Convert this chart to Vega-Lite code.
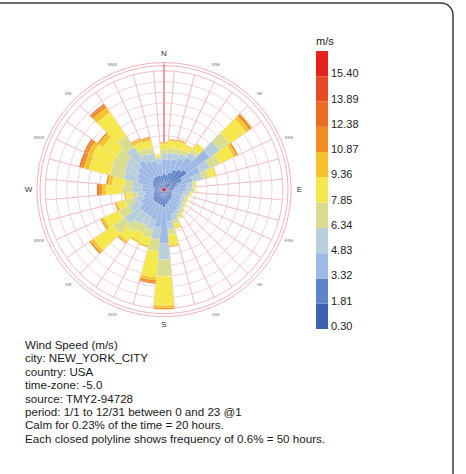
{
  "$schema": "https://vega.github.io/schema/vega-lite/v6.json",
  "width": 465,
  "height": 483,
  "autosize": {"type": "none"},
  "padding": {"left": -12, "top": 3, "right": 13, "bottom": -12},
  "background": "white",
  "config": {"view": {"stroke": "#3a3a3a", "strokeWidth": 1.5, "cornerRadius": 12}},
  "title": {
    "text": ["Wind Speed (m/s)", "city: NEW_YORK_CITY", "country: USA", "time-zone: -5.0", "source: TMY2-94728", "period: 1/1 to 12/31 between 0 and 23 @1", "Calm for 0.23% of the time = 20 hours.", "Each closed polyline shows frequency of 0.6% = 50 hours."],
    "orient": "bottom", "anchor": "start", "frame": "group", "offset": -146, "dx": 37,
    "font": "Liberation Sans", "fontSize": 11.6, "fontWeight": "normal", "color": "#1a1a1a", "lineHeight": 13.4
  },
  "datasets": {
    "rings": [{"r": 0.6}, {"r": 1.2}, {"r": 1.8}, {"r": 2.4}, {"r": 3.0}, {"r": 3.6}, {"r": 4.2}, {"r": 4.8}, {"r": 5.4}, {"r": 6.0}, {"r": 6.6}],
    "outer": [{"r": 6.89}, {"r": 7.06}],
    "dirs": [{"d":0},{"d":10},{"d":20},{"d":30},{"d":40},{"d":50},{"d":60},{"d":70},{"d":80},{"d":90},{"d":100},{"d":110},{"d":120},{"d":130},{"d":140},{"d":150},{"d":160},{"d":170},{"d":180},{"d":190},{"d":200},{"d":210},{"d":220},{"d":230},{"d":240},{"d":250},{"d":260},{"d":270},{"d":280},{"d":290},{"d":300},{"d":310},{"d":320},{"d":330},{"d":340},{"d":350}],
    "major": [{"a": 0, "t": "N"}, {"a": 90, "t": "E"}, {"a": 180, "t": "S"}, {"a": 270, "t": "W"}],
    "minor": [{"a": 22.5, "t": "NNE"}, {"a": 45, "t": "NE"}, {"a": 67.5, "t": "ENE"}, {"a": 112.5, "t": "ESE"}, {"a": 135, "t": "SE"}, {"a": 157.5, "t": "SSE"}, {"a": 202.5, "t": "SSW"}, {"a": 225, "t": "SW"}, {"a": 247.5, "t": "WSW"}, {"a": 292.5, "t": "WNW"}, {"a": 315, "t": "NW"}, {"a": 337.5, "t": "NNW"}],
    "center": [{"v": 1}],
    "wind": [
      {"d":0,"w":1.06,"f":0.28},{"d":0,"w":2.57,"f":0.61},{"d":0,"w":4.08,"f":0.78},{"d":0,"w":5.59,"f":0.33},{"d":0,"w":7.1,"f":0.22},{"d":0,"w":8.61,"f":0.33},{"d":0,"w":10.12,"f":0.08},{"d":0,"w":11.63,"f":0.03},
      {"d":10,"w":1.06,"f":0.28},{"d":10,"w":2.57,"f":0.56},{"d":10,"w":4.08,"f":0.83},{"d":10,"w":5.59,"f":0.39},{"d":10,"w":7.1,"f":0.28},{"d":10,"w":8.61,"f":0.39},{"d":10,"w":10.12,"f":0.08},{"d":10,"w":11.63,"f":0.03},
      {"d":20,"w":1.06,"f":0.33},{"d":20,"w":2.57,"f":0.67},{"d":20,"w":4.08,"f":0.78},{"d":20,"w":5.59,"f":0.33},{"d":20,"w":7.1,"f":0.28},{"d":20,"w":8.61,"f":0.39},{"d":20,"w":10.12,"f":0.08},{"d":20,"w":11.63,"f":0.03},
      {"d":30,"w":1.06,"f":0.39},{"d":30,"w":2.57,"f":0.83},{"d":30,"w":4.08,"f":0.72},{"d":30,"w":5.59,"f":0.28},{"d":30,"w":7.1,"f":0.22},{"d":30,"w":8.61,"f":0.28},{"d":30,"w":10.12,"f":0.06},
      {"d":40,"w":1.06,"f":0.44},{"d":40,"w":2.57,"f":0.94},{"d":40,"w":4.08,"f":0.83},{"d":40,"w":5.59,"f":0.33},{"d":40,"w":7.1,"f":0.22},{"d":40,"w":8.61,"f":0.33},{"d":40,"w":10.12,"f":0.06},
      {"d":50,"w":1.06,"f":0.44},{"d":50,"w":2.57,"f":1.11},{"d":50,"w":4.08,"f":1.56},{"d":50,"w":5.59,"f":0.67},{"d":50,"w":7.1,"f":0.67},{"d":50,"w":8.61,"f":1.11},{"d":50,"w":10.12,"f":0.22},{"d":50,"w":11.63,"f":0.17},
      {"d":60,"w":1.06,"f":0.33},{"d":60,"w":2.57,"f":0.78},{"d":60,"w":4.08,"f":1.11},{"d":60,"w":5.59,"f":0.61},{"d":60,"w":7.1,"f":0.61},{"d":60,"w":8.61,"f":0.83},{"d":60,"w":10.12,"f":0.17},{"d":60,"w":11.63,"f":0.11},
      {"d":70,"w":1.06,"f":0.28},{"d":70,"w":2.57,"f":0.5},{"d":70,"w":4.08,"f":0.89},{"d":70,"w":5.59,"f":0.56},{"d":70,"w":7.1,"f":0.39},{"d":70,"w":8.61,"f":0.33},{"d":70,"w":10.12,"f":0.06},
      {"d":80,"w":1.06,"f":0.22},{"d":80,"w":2.57,"f":0.39},{"d":80,"w":4.08,"f":0.72},{"d":80,"w":5.59,"f":0.28},{"d":80,"w":7.1,"f":0.17},{"d":80,"w":8.61,"f":0.06},
      {"d":90,"w":1.06,"f":0.22},{"d":90,"w":2.57,"f":0.33},{"d":90,"w":4.08,"f":0.67},{"d":90,"w":5.59,"f":0.28},{"d":90,"w":7.1,"f":0.17},{"d":90,"w":8.61,"f":0.06},
      {"d":100,"w":1.06,"f":0.22},{"d":100,"w":2.57,"f":0.28},{"d":100,"w":4.08,"f":0.61},{"d":100,"w":5.59,"f":0.28},{"d":100,"w":7.1,"f":0.11},{"d":100,"w":8.61,"f":0.06},
      {"d":110,"w":1.06,"f":0.17},{"d":110,"w":2.57,"f":0.33},{"d":110,"w":4.08,"f":0.5},{"d":110,"w":5.59,"f":0.22},{"d":110,"w":7.1,"f":0.17},{"d":110,"w":8.61,"f":0.06},
      {"d":120,"w":1.06,"f":0.17},{"d":120,"w":2.57,"f":0.33},{"d":120,"w":4.08,"f":0.56},{"d":120,"w":5.59,"f":0.22},{"d":120,"w":7.1,"f":0.11},{"d":120,"w":8.61,"f":0.06},
      {"d":130,"w":1.06,"f":0.17},{"d":130,"w":2.57,"f":0.39},{"d":130,"w":4.08,"f":0.56},{"d":130,"w":5.59,"f":0.22},{"d":130,"w":7.1,"f":0.11},{"d":130,"w":8.61,"f":0.06},
      {"d":140,"w":1.06,"f":0.22},{"d":140,"w":2.57,"f":0.39},{"d":140,"w":4.08,"f":0.61},{"d":140,"w":5.59,"f":0.22},{"d":140,"w":7.1,"f":0.17},{"d":140,"w":8.61,"f":0.06},
      {"d":150,"w":1.06,"f":0.22},{"d":150,"w":2.57,"f":0.44},{"d":150,"w":4.08,"f":0.67},{"d":150,"w":5.59,"f":0.22},{"d":150,"w":7.1,"f":0.17},{"d":150,"w":8.61,"f":0.08},
      {"d":160,"w":1.06,"f":0.22},{"d":160,"w":2.57,"f":0.5},{"d":160,"w":4.08,"f":0.72},{"d":160,"w":5.59,"f":0.33},{"d":160,"w":7.1,"f":0.22},{"d":160,"w":8.61,"f":0.22},{"d":160,"w":10.12,"f":0.06},
      {"d":170,"w":1.06,"f":0.28},{"d":170,"w":2.57,"f":0.56},{"d":170,"w":4.08,"f":0.94},{"d":170,"w":5.59,"f":0.44},{"d":170,"w":7.1,"f":0.33},{"d":170,"w":8.61,"f":0.56},{"d":170,"w":10.12,"f":0.08},{"d":170,"w":11.63,"f":0.03},
      {"d":180,"w":1.06,"f":0.28},{"d":180,"w":2.57,"f":0.72},{"d":180,"w":4.08,"f":2.0},{"d":180,"w":5.59,"f":0.89},{"d":180,"w":7.1,"f":0.94},{"d":180,"w":8.61,"f":1.61},{"d":180,"w":10.12,"f":0.14},{"d":180,"w":11.63,"f":0.08},
      {"d":190,"w":1.06,"f":0.28},{"d":190,"w":2.57,"f":0.61},{"d":190,"w":4.08,"f":1.22},{"d":190,"w":5.59,"f":0.67},{"d":190,"w":7.1,"f":0.67},{"d":190,"w":8.61,"f":1.44},{"d":190,"w":10.12,"f":0.17},{"d":190,"w":11.63,"f":0.14},{"d":190,"w":13.14,"f":0.06},
      {"d":200,"w":1.06,"f":0.28},{"d":200,"w":2.57,"f":0.56},{"d":200,"w":4.08,"f":0.94},{"d":200,"w":5.59,"f":0.56},{"d":200,"w":7.1,"f":0.44},{"d":200,"w":8.61,"f":0.44},{"d":200,"w":10.12,"f":0.11},
      {"d":210,"w":1.06,"f":0.28},{"d":210,"w":2.57,"f":0.56},{"d":210,"w":4.08,"f":0.83},{"d":210,"w":5.59,"f":0.56},{"d":210,"w":7.1,"f":0.44},{"d":210,"w":8.61,"f":0.5},{"d":210,"w":10.12,"f":0.11},
      {"d":220,"w":1.06,"f":0.28},{"d":220,"w":2.57,"f":0.56},{"d":220,"w":4.08,"f":0.83},{"d":220,"w":5.59,"f":0.67},{"d":220,"w":7.1,"f":0.56},{"d":220,"w":8.61,"f":0.61},{"d":220,"w":10.12,"f":0.11},{"d":220,"w":11.63,"f":0.06},
      {"d":230,"w":1.06,"f":0.28},{"d":230,"w":2.57,"f":0.5},{"d":230,"w":4.08,"f":0.89},{"d":230,"w":5.59,"f":1.0},{"d":230,"w":7.1,"f":0.78},{"d":230,"w":8.61,"f":1.33},{"d":230,"w":10.12,"f":0.17},{"d":230,"w":11.63,"f":0.11},
      {"d":240,"w":1.06,"f":0.22},{"d":240,"w":2.57,"f":0.44},{"d":240,"w":4.08,"f":0.78},{"d":240,"w":5.59,"f":0.67},{"d":240,"w":7.1,"f":0.67},{"d":240,"w":8.61,"f":0.89},{"d":240,"w":10.12,"f":0.17},{"d":240,"w":11.63,"f":0.06},
      {"d":250,"w":1.06,"f":0.22},{"d":250,"w":2.57,"f":0.39},{"d":250,"w":4.08,"f":0.61},{"d":250,"w":5.59,"f":0.56},{"d":250,"w":7.1,"f":0.44},{"d":250,"w":8.61,"f":0.44},{"d":250,"w":10.12,"f":0.11},{"d":250,"w":11.63,"f":0.06},
      {"d":260,"w":1.06,"f":0.22},{"d":260,"w":2.57,"f":0.33},{"d":260,"w":4.08,"f":0.56},{"d":260,"w":5.59,"f":0.39},{"d":260,"w":7.1,"f":0.33},{"d":260,"w":8.61,"f":0.28},{"d":260,"w":10.12,"f":0.08},{"d":260,"w":11.63,"f":0.03},
      {"d":270,"w":1.06,"f":0.22},{"d":270,"w":2.57,"f":0.33},{"d":270,"w":4.08,"f":0.67},{"d":270,"w":5.59,"f":0.56},{"d":270,"w":7.1,"f":0.56},{"d":270,"w":8.61,"f":0.89},{"d":270,"w":10.12,"f":0.22},{"d":270,"w":11.63,"f":0.17},{"d":270,"w":13.14,"f":0.11},
      {"d":280,"w":1.06,"f":0.22},{"d":280,"w":2.57,"f":0.33},{"d":280,"w":4.08,"f":0.67},{"d":280,"w":5.59,"f":0.56},{"d":280,"w":7.1,"f":0.44},{"d":280,"w":8.61,"f":0.67},{"d":280,"w":10.12,"f":0.22},{"d":280,"w":11.63,"f":0.11},
      {"d":290,"w":1.06,"f":0.22},{"d":290,"w":2.57,"f":0.44},{"d":290,"w":4.08,"f":0.89},{"d":290,"w":5.59,"f":0.78},{"d":290,"w":7.1,"f":0.78},{"d":290,"w":8.61,"f":1.22},{"d":290,"w":10.12,"f":0.28},{"d":290,"w":11.63,"f":0.17},{"d":290,"w":13.14,"f":0.11},
      {"d":300,"w":1.06,"f":0.22},{"d":300,"w":2.57,"f":0.5},{"d":300,"w":4.08,"f":0.94},{"d":300,"w":5.59,"f":0.78},{"d":300,"w":7.1,"f":0.78},{"d":300,"w":8.61,"f":1.17},{"d":300,"w":10.12,"f":0.28},{"d":300,"w":11.63,"f":0.17},{"d":300,"w":13.14,"f":0.08},
      {"d":310,"w":1.06,"f":0.28},{"d":310,"w":2.57,"f":0.5},{"d":310,"w":4.08,"f":1.0},{"d":310,"w":5.59,"f":0.78},{"d":310,"w":7.1,"f":0.67},{"d":310,"w":8.61,"f":0.89},{"d":310,"w":10.12,"f":0.28},{"d":310,"w":11.63,"f":0.11},
      {"d":320,"w":1.06,"f":0.28},{"d":320,"w":2.57,"f":0.56},{"d":320,"w":4.08,"f":1.17},{"d":320,"w":5.59,"f":0.89},{"d":320,"w":7.1,"f":0.78},{"d":320,"w":8.61,"f":1.56},{"d":320,"w":10.12,"f":0.33},{"d":320,"w":11.63,"f":0.17},{"d":320,"w":13.14,"f":0.08},
      {"d":330,"w":1.06,"f":0.28},{"d":330,"w":2.57,"f":0.56},{"d":330,"w":4.08,"f":0.94},{"d":330,"w":5.59,"f":0.44},{"d":330,"w":7.1,"f":0.33},{"d":330,"w":8.61,"f":0.39},{"d":330,"w":10.12,"f":0.17},{"d":330,"w":11.63,"f":0.06},
      {"d":340,"w":1.06,"f":0.28},{"d":340,"w":2.57,"f":0.56},{"d":340,"w":4.08,"f":0.83},{"d":340,"w":5.59,"f":0.44},{"d":340,"w":7.1,"f":0.33},{"d":340,"w":8.61,"f":0.39},{"d":340,"w":10.12,"f":0.17},{"d":340,"w":11.63,"f":0.06},
      {"d":350,"w":1.06,"f":0.28},{"d":350,"w":2.57,"f":0.5},{"d":350,"w":4.08,"f":0.67},{"d":350,"w":5.59,"f":0.28},{"d":350,"w":7.1,"f":0.14},{"d":350,"w":8.61,"f":0.11},{"d":350,"w":10.12,"f":0.03}
    ]
  },
  "encoding": {
    "x": {"datum": 0, "type": "quantitative", "scale": {"domain": [-9.778, 16.056], "zero": false, "nice": false}, "axis": null},
    "y": {"datum": 0, "type": "quantitative", "scale": {"domain": [-16.467, 10.367], "zero": false, "nice": false}, "axis": null}
  },
  "layer": [
    {
      "data": {"name": "dirs"},
      "mark": {"type": "arc", "filled": false, "color": "#f2b7be", "strokeWidth": 0.6, "thetaOffset": -0.0872665, "theta2Offset": 0.0872665},
      "encoding": {
        "theta": {"field": "d", "type": "quantitative", "stack": null, "scale": {"domain": [0, 360], "range": [0, 6.283185]}},
        "theta2": {"field": "d"},
        "radius": {"datum": 6.6, "type": "quantitative", "scale": {"type": "linear", "domain": [0, 10], "range": [0, 180], "zero": true, "nice": false}},
        "radius2": {"datum": 0}
      }
    },
    {
      "data": {"name": "rings"},
      "mark": {"type": "arc", "filled": false, "color": "#f2b7be", "strokeWidth": 0.6},
      "encoding": {
        "theta": {"datum": 0, "type": "quantitative", "stack": null, "scale": {"domain": [0, 360], "range": [0, 6.283185]}},
        "theta2": {"datum": 360},
        "radius": {"field": "r", "type": "quantitative", "scale": {"type": "linear", "domain": [0, 10], "range": [0, 180], "zero": true, "nice": false}},
        "radius2": {"datum": 0}
      }
    },
    {
      "data": {"name": "outer"},
      "mark": {"type": "arc", "filled": false, "color": "#e98f9a", "strokeWidth": 0.7},
      "encoding": {
        "theta": {"datum": 0, "type": "quantitative", "stack": null, "scale": {"domain": [0, 360], "range": [0, 6.283185]}},
        "theta2": {"datum": 360},
        "radius": {"field": "r", "type": "quantitative", "scale": {"type": "linear", "domain": [0, 10], "range": [0, 180], "zero": true, "nice": false}},
        "radius2": {"datum": 0}
      }
    },
    {
      "data": {"name": "wind"},
      "transform": [
        {"stack": "f", "groupby": ["d"], "sort": [{"field": "w", "order": "ascending"}], "as": ["r0", "r1"]}
      ],
      "mark": {"type": "arc", "thetaOffset": -0.0872665, "theta2Offset": 0.0872665, "stroke": "#ffffff", "strokeWidth": 0.25, "strokeOpacity": 0.6},
      "encoding": {
        "theta": {"field": "d", "type": "quantitative", "stack": null, "scale": {"domain": [0, 360], "range": [0, 6.283185]}},
        "theta2": {"field": "d"},
        "radius": {"field": "r1", "type": "quantitative", "scale": {"type": "linear", "domain": [0, 10], "range": [0, 180], "zero": true, "nice": false}},
        "radius2": {"field": "r0"},
        "color": {
          "field": "w", "type": "quantitative",
          "scale": {"type": "threshold", "domain": [0.30, 1.81, 3.32, 4.83, 6.34, 7.85, 9.36, 10.87, 12.38, 13.89, 15.40],
                    "range": ["#ffffff", "#3d62ad", "#5d85c8", "#9db9e5", "#b7cfdd", "#d8dd8f", "#f5e84c", "#f6c22d", "#ef8d22", "#ec6b26", "#e74b26", "#e5231e"]},
          "legend": {
            "type": "gradient", "orient": "none", "legendX": 328, "legendY": 33, "direction": "vertical",
            "title": "m/s", "titleFont": "Liberation Sans", "titleFontSize": 11, "titleFontWeight": "normal", "titleColor": "#222222", "titlePadding": 4, "titleAnchor": "start",
            "gradientLength": 303.3, "gradientThickness": 12, "gradientStrokeWidth": 0,
            "labelFont": "Liberation Sans", "labelFontSize": 11, "labelColor": "#222222", "labelOffset": 3, "format": ".2f",
            "padding": 0,
            "encode": {"labels": {"update": {"dy": {"value": -2}}}}
          }
        }
      }
    },
    {
      "data": {"name": "center"},
      "mark": {"type": "arc", "color": "#e8202a"},
      "encoding": {
        "theta": {"datum": 0, "type": "quantitative", "stack": null, "scale": {"domain": [0, 360], "range": [0, 6.283185]}},
        "theta2": {"datum": 360},
        "radius": {"datum": 0.09, "type": "quantitative", "scale": {"type": "linear", "domain": [0, 10], "range": [0, 180], "zero": true, "nice": false}},
        "radius2": {"datum": 0}
      }
    },
    {
      "data": {"name": "major"},
      "mark": {"type": "text", "font": "Liberation Sans", "fontSize": 8, "color": "#333333", "align": "center", "baseline": "middle"},
      "encoding": {
        "theta": {"field": "a", "type": "quantitative", "stack": null, "scale": {"domain": [0, 360], "range": [0, 6.283185]}},
        "radius": {"datum": 7.52, "type": "quantitative", "scale": {"type": "linear", "domain": [0, 10], "range": [0, 180], "zero": true, "nice": false}},
        "text": {"field": "t"}
      }
    },
    {
      "data": {"name": "minor"},
      "mark": {"type": "text", "font": "Liberation Sans", "fontSize": 4, "color": "#777777", "align": "center", "baseline": "middle"},
      "encoding": {
        "theta": {"field": "a", "type": "quantitative", "stack": null, "scale": {"domain": [0, 360], "range": [0, 6.283185]}},
        "radius": {"datum": 7.52, "type": "quantitative", "scale": {"type": "linear", "domain": [0, 10], "range": [0, 180], "zero": true, "nice": false}},
        "text": {"field": "t"}
      }
    }
  ]
}
